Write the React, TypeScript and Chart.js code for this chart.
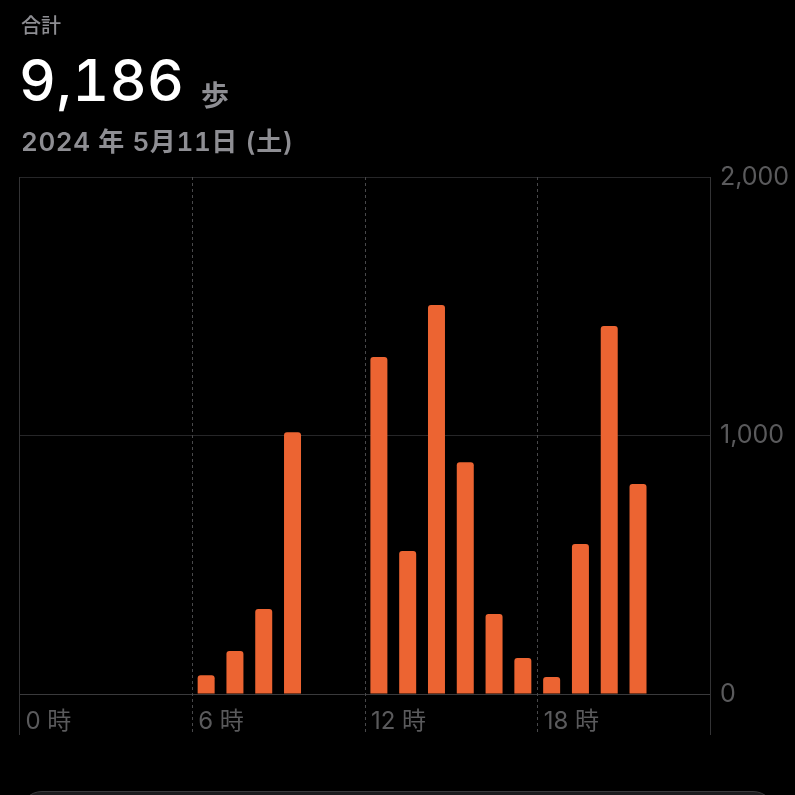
import React, { useEffect, useRef } from "react";
import { Chart, registerables } from "chart.js";

Chart.register(...registerables);

const hours = Array.from({ length: 24 }, (_, i) => String(i));
const steps = [0, 0, 0, 0, 0, 0, 73, 166, 329, 1013, 0, 0, 1304, 553, 1505, 897, 309, 139, 66, 580, 1424, 812, 0, 0];
const yTicks = [0, 1000, 2000];
const hourLabelEvery = 6;
const totalLabel = "9,186";
const unitLabel = "歩";
const titleLabel = "合計";
const dateLabel = "2024 年 5月11日 (土)";

const FONT = 'Inter, "Noto Sans CJK JP", sans-serif';

const verticalLines = {
  id: "verticalLines",
  beforeDatasetsDraw(chart: any) {
    const { ctx, chartArea, scales } = chart;
    const x = scales.x;
    const slot = x.getPixelForValue(1) - x.getPixelForValue(0);
    const bottom = chartArea.bottom + 41;
    ctx.save();
    for (let i = 0; i <= 24; i += hourLabelEvery) {
      const px = Math.round(i === 24 ? x.right : x.getPixelForValue(i) - slot / 2) + 0.5;
      const solid = i === 0 || i === 24;
      ctx.beginPath();
      ctx.lineWidth = 1;
      ctx.strokeStyle = solid ? "#333335" : "#48484a";
      ctx.setLineDash(solid ? [] : [3, 3]);
      ctx.moveTo(px, chartArea.top);
      ctx.lineTo(px, bottom);
      ctx.stroke();
    }
    ctx.restore();
  },
};

function ChartView() {
  const ref = useRef<HTMLCanvasElement>(null);
  useEffect(() => {
    if (!ref.current) return;
    const chart = new Chart(ref.current, {
      type: "bar",
      data: {
        labels: hours,
        datasets: [
          {
            data: steps,
            backgroundColor: "#ec6432",
            borderRadius: 3,
            barPercentage: 0.59,
            categoryPercentage: 1,
          },
        ],
      },
      options: {
        responsive: false,
        animation: false,
        layout: { padding: { top: 177, left: 19, right: 0, bottom: 0 } },
        plugins: { legend: { display: false }, tooltip: { enabled: false } },
        scales: {
          x: {
            offset: true,
            grid: { display: false, drawTicks: false },
            border: { display: false },
            ticks: {
              autoSkip: false,
              maxRotation: 0,
              minRotation: 0,
              align: "start",
              labelOffset: -8,
              padding: 13,
              color: "#5a5a5c",
              font: { family: FONT, size: 24 },
              callback: (_v: any, i: number) => (i % hourLabelEvery === 0 ? `${hours[i]} 時` : ""),
            },
            afterFit: (s: any) => {
              s.height = 101;
            },
          },
          y: {
            position: "right",
            min: 0,
            max: 2000,
            afterBuildTicks: (s: any) => {
              s.ticks = yTicks.map((v) => ({ value: v }));
            },
            grid: {
              drawTicks: false,
              color: (c: any) => (c.tick && c.tick.value === 0 ? "#3a3a3c" : "#262628"),
            },
            border: { display: false },
            ticks: {
              padding: 10,
              color: "#5a5a5c",
              font: { family: FONT, size: 25 },
              callback: (v: any) => Number(v).toLocaleString("en-US"),
            },
            afterFit: (s: any) => {
              s.width = 85;
            },
          },
        },
      },
      plugins: [verticalLines],
    });
    return () => chart.destroy();
  }, []);
  return (
    <canvas
      ref={ref}
      width={795}
      height={795}
      style={{ position: "absolute", left: 0, top: 0, width: 795, height: 795 }}
    />
  );
}

export default function App() {
  const gray = "#8e8e93";
  return (
    <div
      style={{
        position: "fixed",
        left: 0,
        top: 0,
        width: 795,
        height: 795,
        background: "#000",
        overflow: "hidden",
        fontFamily: FONT,
      }}
    >
      <ChartView />
      <div style={{ position: "absolute", left: 21, top: 14, fontSize: 20, lineHeight: "24px", color: gray, fontWeight: 500 }}>
        {titleLabel}
      </div>
      <div
        style={{
          position: "absolute",
          left: 19,
          top: 52,
          fontSize: 57,
          lineHeight: "57px",
          color: "#fff",
          fontWeight: 500,
          fontVariantNumeric: "tabular-nums",
          letterSpacing: 0.5,
        }}
      >
        {totalLabel}
      </div>
      <div style={{ position: "absolute", left: 201, top: 80, fontSize: 28, lineHeight: "32px", color: gray, fontWeight: 600 }}>
        {unitLabel}
      </div>
      <div
        style={{
          position: "absolute",
          left: 21,
          top: 127,
          fontSize: 26,
          lineHeight: "30px",
          color: gray,
          fontWeight: 600,
          letterSpacing: 0.6,
          fontVariantNumeric: "tabular-nums",
        }}
      >
        {dateLabel}
      </div>
      <div
        style={{
          position: "absolute",
          left: 20,
          top: 791,
          width: 755,
          height: 60,
          borderRadius: 22,
          background: "#1c1c1e",
          border: "1px solid #3a3a3c",
          boxSizing: "border-box",
        }}
      />
    </div>
  );
}
